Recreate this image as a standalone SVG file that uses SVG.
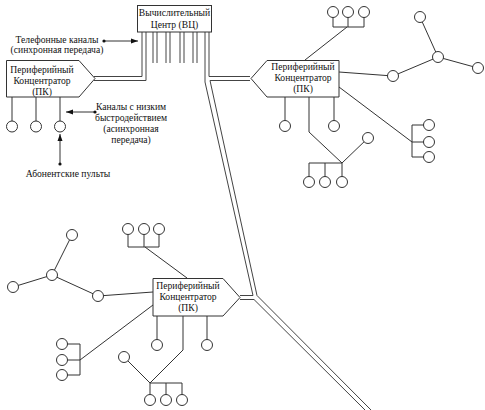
<svg xmlns="http://www.w3.org/2000/svg" width="485" height="410" viewBox="0 0 485 410">
<style>
.ln{fill:none;stroke:#333;stroke-width:1}
.dl{fill:none;stroke:#444;stroke-width:1}
.nd{fill:#fff;stroke:#333;stroke-width:1}
.t{font-family:"Liberation Serif","DejaVu Serif","Times New Roman",serif;font-size:9.6px;fill:#111;text-anchor:middle}
.dot{fill:#111}
</style>
<defs>
<marker id="ah" markerWidth="8" markerHeight="6" refX="7" refY="3" orient="auto" markerUnits="userSpaceOnUse">
<path d="M0,0.5 L7,3 L0,5.5 Z" fill="#111"/>
</marker>
</defs>
<rect width="485" height="410" fill="#fff"/>

<g id="connectors">
<path class="dl" d="M142,32 V76.5 H94"/>
<path class="dl" d="M146,32 V80.5 H94"/>
<path class="dl" d="M153,32 V63 M157,32 V63 M166,32 V63 M170,32 V63 M180,32 V63 M184,32 V63 M193,32 V63 M197,32 V63"/>
<path class="dl" d="M205,32 V82 L253,295.5 H240"/>
<path class="dl" d="M209,32 V76.5 H250"/>
<path class="dl" d="M250,80.5 H210 L257,295.5 L371,410"/>
<path class="dl" d="M240,299.5 H254 L365,410"/>

<path class="ln" d="M12,97 V126 M36,97 V126 M60,97 V126"/>

<path class="ln" d="M305,60 L347,27 M333,27 H364 M333,27 V12 M348,27 V12 M364,27 V12"/>
<path class="ln" d="M339,72 L393,76 L438,57 L420,17 M438,57 L478,68"/>
<path class="ln" d="M339,87 L412,142 M412,125 V157 M412,125 H429 M412,142 H429 M412,157 H429"/>
<path class="ln" d="M285,97 V126 M334,97 V126"/>
<path class="ln" d="M309,97 V132 L342,163 M309,163 H342 M309,163 V182 M325,163 V182 M342,163 V182 M342,163 L368,138"/>

<path class="ln" d="M187,278 L145,247 M128,247 H159 M128,247 V229 M144,247 V229 M159,247 V229"/>
<path class="ln" d="M153,292 L98,296 L52,275 L72,235 M52,275 L13,287"/>
<path class="ln" d="M153,305 L80,360 M80,344 V375 M80,344 H62 M80,360 H62 M80,375 H62"/>
<path class="ln" d="M157,316 V345 M207,316 V345"/>
<path class="ln" d="M183,316 V350 L150,383 M150,383 H182 M150,383 V400 M166,383 V400 M182,383 V400 M150,383 L124,357"/>

<line class="ln" x1="104" y1="41" x2="138" y2="41" marker-end="url(#ah)"/>
<circle class="dot" cx="104" cy="41" r="1.6"/>
<line class="ln" x1="95" y1="112" x2="66" y2="112" marker-end="url(#ah)"/>
<circle class="dot" cx="95" cy="112" r="1.6"/>
<line class="ln" x1="60" y1="164" x2="60" y2="134" marker-end="url(#ah)"/>
<circle class="dot" cx="60" cy="164" r="1.6"/>
</g>

<g id="vc">
<rect class="nd" x="137.5" y="5.5" width="74" height="26.5"/>
<text class="t" x="174.5" y="16">Вычислительный</text>
<text class="t" x="174.5" y="28">Центр (ВЦ)</text>
</g>

<g id="pk-top-left">
<path class="nd" d="M6.5,60.5 H79 L95,78.5 L79,97 H6.5 Z"/>
<text class="t" x="42" y="73">Периферийный</text>
<text class="t" x="42" y="84">Концентратор</text>
<text class="t" x="42" y="95">(ПК)</text>
</g>

<g id="pk-right">
<path class="nd" d="M251,78.5 L267,60.5 H339 V97 H267 Z"/>
<text class="t" x="303" y="70">Периферийный</text>
<text class="t" x="303" y="81">Концентратор</text>
<text class="t" x="303" y="92">(ПК)</text>
</g>

<g id="pk-bottom">
<path class="nd" d="M153,278.5 H223 L240,297.5 L223,316 H153 Z"/>
<text class="t" x="188" y="289">Периферийный</text>
<text class="t" x="188" y="300">Концентратор</text>
<text class="t" x="188" y="311">(ПК)</text>
</g>

<g id="terminals">
<circle class="nd" cx="12" cy="126.5" r="5.5"/>
<circle class="nd" cx="36" cy="126.5" r="5.5"/>
<circle class="nd" cx="60" cy="126.5" r="5.5"/>

<circle class="nd" cx="333" cy="12" r="5.5"/>
<circle class="nd" cx="348" cy="12" r="5.5"/>
<circle class="nd" cx="364" cy="12" r="5.5"/>
<circle class="nd" cx="393" cy="76" r="5.5"/>
<circle class="nd" cx="438" cy="57" r="5.5"/>
<circle class="nd" cx="420" cy="17" r="5.5"/>
<circle class="nd" cx="478" cy="68" r="5.5"/>
<circle class="nd" cx="429" cy="125" r="5.5"/>
<circle class="nd" cx="429" cy="142" r="5.5"/>
<circle class="nd" cx="429" cy="157" r="5.5"/>
<circle class="nd" cx="285" cy="126" r="5.5"/>
<circle class="nd" cx="334" cy="126" r="5.5"/>
<circle class="nd" cx="309" cy="182" r="5.5"/>
<circle class="nd" cx="325" cy="182" r="5.5"/>
<circle class="nd" cx="342" cy="182" r="5.5"/>
<circle class="nd" cx="368" cy="138" r="5.5"/>

<circle class="nd" cx="128" cy="229" r="5.5"/>
<circle class="nd" cx="144" cy="229" r="5.5"/>
<circle class="nd" cx="159" cy="229" r="5.5"/>
<circle class="nd" cx="98" cy="296" r="5.5"/>
<circle class="nd" cx="52" cy="275" r="5.5"/>
<circle class="nd" cx="72" cy="235" r="5.5"/>
<circle class="nd" cx="13" cy="287" r="5.5"/>
<circle class="nd" cx="62" cy="344" r="5.5"/>
<circle class="nd" cx="62" cy="360" r="5.5"/>
<circle class="nd" cx="62" cy="375" r="5.5"/>
<circle class="nd" cx="157" cy="345" r="5.5"/>
<circle class="nd" cx="207" cy="345" r="5.5"/>
<circle class="nd" cx="150" cy="400" r="5.5"/>
<circle class="nd" cx="166" cy="400" r="5.5"/>
<circle class="nd" cx="182" cy="400" r="5.5"/>
<circle class="nd" cx="124" cy="357" r="5.5"/>
</g>

<g id="labels">
<text class="t" x="57" y="43">Телефонные каналы</text>
<text class="t" x="57" y="53">(синхронная передача)</text>
<text class="t" x="131" y="110">Каналы с низким</text>
<text class="t" x="131" y="121">быстродействием</text>
<text class="t" x="131" y="132">(асинхронная</text>
<text class="t" x="131" y="143">передача)</text>
<text class="t" x="68" y="177">Абонентские пульты</text>
</g>
</svg>
